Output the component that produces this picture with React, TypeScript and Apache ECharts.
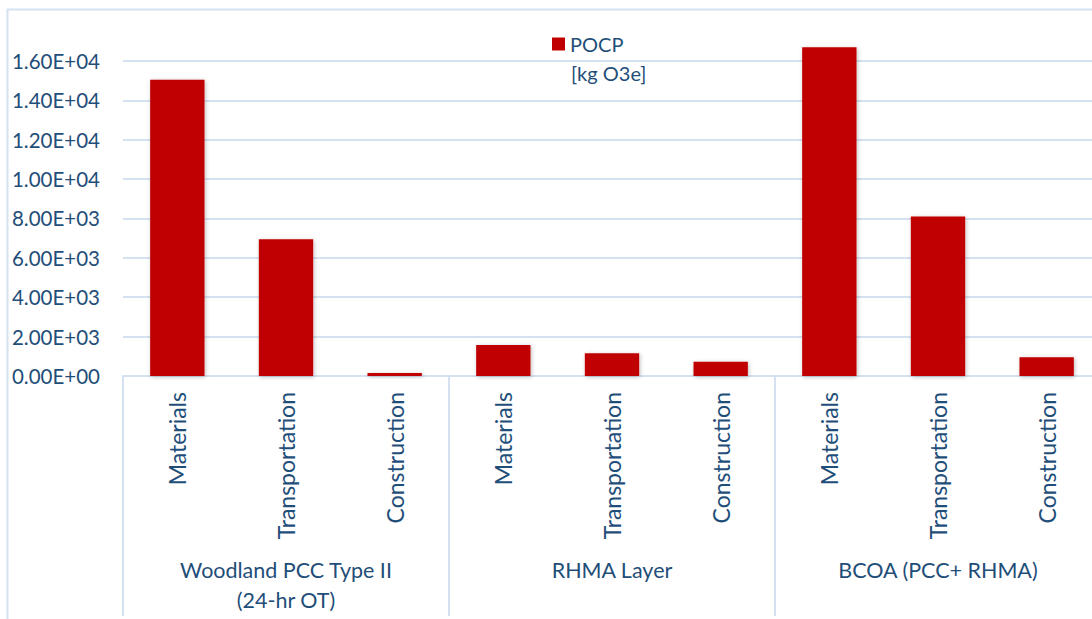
import React, { useEffect, useRef } from "react";
import * as echarts from "echarts";

const categories = [
  "Materials", "Transportation", "Construction",
  "Materials", "Transportation", "Construction",
  "Materials", "Transportation", "Construction",
];
const groups = ["Woodland PCC Type II\n(24-hr OT)", "RHMA Layer", "BCOA (PCC+ RHMA)"];
const pocpValues = [15050, 6950, 150, 1570, 1160, 720, 16700, 8100, 950];
const seriesName = "POCP";
const unitLabel = "[kg O3e]";
const yMin = 0;
const yMax = 18000;
const yInterval = 2000;

const TEXT = "#1F4E79";
const GRIDC = "#D5E1F1";
const FONT = "Lato";

function fmtExp(v: number): string {
  const [m, e] = v.toExponential(2).split("e");
  const sign = e.startsWith("-") ? "-" : "+";
  const digits = e.replace(/[+-]/, "").padStart(2, "0");
  return `${m}E${sign}${digits}`;
}

export default function App() {
  const ref = useRef<HTMLDivElement>(null);
  useEffect(() => {
    if (!ref.current) return;
    const chart = echarts.init(ref.current, null, { renderer: "svg" });
    chart.setOption({
      animation: false,
      backgroundColor: "#ffffff",
      textStyle: { fontFamily: FONT },
      graphic: [
        {
          type: "rect",
          shape: { x: 7.5, y: 9.5, width: 1200, height: 800 },
          style: { fill: "none", stroke: GRIDC, lineWidth: 2 },
          silent: true,
        },
        {
          type: "text",
          x: 571,
          y: 73,
          style: {
            text: unitLabel,
            fill: TEXT,
            fontSize: 20,
            fontFamily: FONT,
            verticalAlign: "middle",
            align: "left",
          },
          silent: true,
        },
      ],
      legend: {
        show: true,
        left: 552,
        top: 32,
        padding: 0,
        itemWidth: 13,
        itemHeight: 13,
        data: [{ name: seriesName, icon: "rect" }],
        textStyle: {
          color: TEXT,
          fontSize: 20,
          fontFamily: FONT,
          lineHeight: 24,
        },
      },
      grid: {
        left: 123,
        top: 21.6,
        width: 978,
        bottom: 243,
        containLabel: false,
      },
      xAxis: [
        {
          type: "category",
          data: categories,
          position: "bottom",
          axisLine: { show: true, lineStyle: { color: GRIDC, width: 2 } },
          axisTick: { show: false },
          axisLabel: {
            rotate: 90,
            interval: 0,
            margin: 16,
            color: TEXT,
            fontSize: 23,
            fontFamily: FONT,
          },
          splitLine: { show: false },
        },
        {
          type: "category",
          data: groups,
          position: "bottom",
          axisLine: { show: false },
          axisTick: {
            show: true,
            interval: 0,
            alignWithLabel: false,
            length: 240,
            inside: false,
            lineStyle: { color: GRIDC, width: 2 },
          },
          axisLabel: {
            interval: 0,
            margin: 179,
            color: TEXT,
            fontSize: 21.5,
            lineHeight: 30,
            fontFamily: FONT,
          },
          splitLine: { show: false },
        },
      ],
      yAxis: {
        type: "value",
        min: yMin,
        max: yMax,
        interval: yInterval,
        axisLine: { show: false },
        axisTick: { show: false },
        axisLabel: {
          margin: 23,
          color: TEXT,
          fontSize: 20.5,
          fontFamily: FONT,
          showMaxLabel: false,
          formatter: (v: number) => fmtExp(v),
        },
        splitLine: {
          show: true,
          showMaxLine: false,
          lineStyle: { color: GRIDC, width: 2 },
        },
      },
      series: [
        {
          name: seriesName,
          type: "bar",
          data: pocpValues,
          barWidth: "50%",
          itemStyle: {
            color: "#C00000",
            shadowBlur: 4,
            shadowColor: "rgba(0,0,0,0.25)",
            shadowOffsetX: 1,
            shadowOffsetY: 1,
          },
        },
      ],
    });
    return () => chart.dispose();
  }, []);
  return (
    <div
      ref={ref}
      style={{ position: "fixed", left: 0, top: 0, width: 1120, height: 619 }}
    />
  );
}
